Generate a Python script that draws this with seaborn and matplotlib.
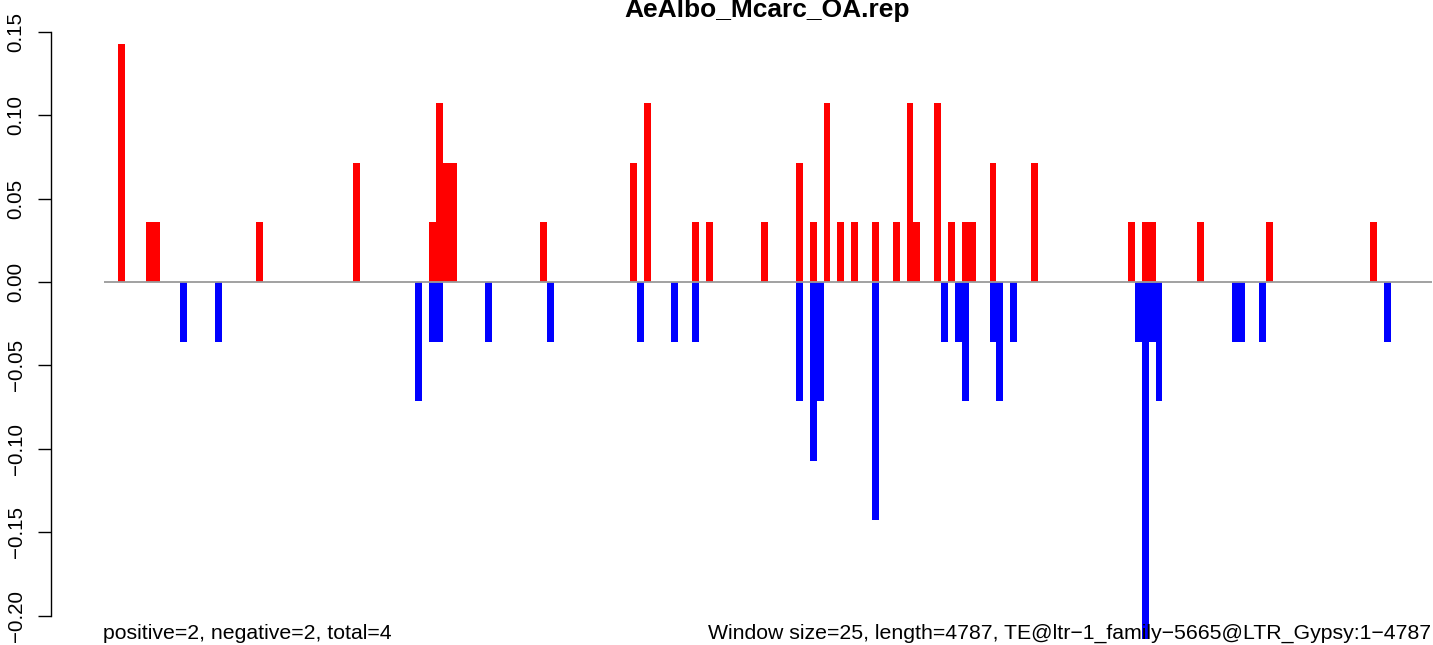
import numpy as np
import pandas as pd
import matplotlib
matplotlib.use("Agg")
import matplotlib.pyplot as plt
import seaborn as sns

# ---- data (window index, value) ----
n_windows = 192
pos_bins = [2, 6, 7, 22, 36, 47, 48, 49, 50, 63, 76, 78, 85, 87, 95, 100, 102, 104,
            106, 108, 111, 114, 116, 117, 120, 122, 124, 125, 128, 134, 148, 150, 151,
            158, 168, 183]
pos_vals = [0.1429, 0.0357, 0.0357, 0.0357, 0.0714, 0.0357, 0.1071, 0.0714, 0.0714,
            0.0357, 0.0714, 0.1071, 0.0357, 0.0357, 0.0357, 0.0714, 0.0357, 0.1071,
            0.0357, 0.0357, 0.0357, 0.0357, 0.1071, 0.0357, 0.1071, 0.0357, 0.0357,
            0.0357, 0.0714, 0.0714, 0.0357, 0.0357, 0.0357, 0.0357, 0.0357, 0.0357]
neg_bins = [11, 16, 45, 47, 48, 55, 64, 77, 82, 85, 100, 102, 103, 111, 121, 123, 124,
            128, 129, 131, 149, 150, 151, 152, 163, 164, 167, 185]
neg_vals = [-0.0357, -0.0357, -0.0714, -0.0357, -0.0357, -0.0357, -0.0357, -0.0357,
            -0.0357, -0.0357, -0.0714, -0.1071, -0.0714, -0.1429, -0.0357, -0.0357,
            -0.0714, -0.0357, -0.0714, -0.0357, -0.0357, -0.2143, -0.0357, -0.0714,
            -0.0357, -0.0357, -0.0357, -0.0357]
yticks = [-0.20, -0.15, -0.10, -0.05, 0.00, 0.05, 0.10, 0.15]
title = "AeAlbo_Mcarc_OA.rep"
left_note = "positive=2, negative=2, total=4"
right_note = "Window size=25, length=4787, TE@ltr\u22121_family\u22125665@LTR_Gypsy:1\u22124787"

# ---- build full tables ----
idx = np.arange(n_windows)
pos_full = np.zeros(n_windows)
pos_full[pos_bins] = pos_vals
neg_full = np.zeros(n_windows)
neg_full[neg_bins] = neg_vals
df_pos = pd.DataFrame({"win": idx, "val": pos_full})
df_neg = pd.DataFrame({"win": idx, "val": neg_full})

sns.set_style("white")
plt.rcParams["font.family"] = ["Liberation Sans", "DejaVu Sans"]
plt.rcParams["text.color"] = "black"
plt.rcParams["ytick.color"] = "black"
plt.rcParams["ytick.labelcolor"] = "black"

W, H = 1433, 645
fig = plt.figure(figsize=(W / 100, H / 100), dpi=100)
ax = fig.add_axes([51 / W, 0, (W - 51) / W, 1])

sns.barplot(data=df_pos, x="win", y="val", color="#FF0000", saturation=1,
            width=1.0, linewidth=0, errorbar=None, ax=ax)
sns.barplot(data=df_neg, x="win", y="val", color="#0000FF", saturation=1,
            width=1.0, linewidth=0, errorbar=None, ax=ax)

ax.hlines(0, -0.5, n_windows - 0.5, color="#9a9a9a", linewidth=1.3, zorder=5)

px_per_bin = 6.917
ax.set_xlim((51 - 104.17) / px_per_bin - 0.5, (W - 104.17) / px_per_bin - 0.5)
px_per_unit = 83.4 / 0.05
ax.set_ylim(-(H - 282) / px_per_unit, 282 / px_per_unit)

for s in ["top", "right", "bottom"]:
    ax.spines[s].set_visible(False)
ax.spines["left"].set_bounds(-0.20, 0.15)
ax.spines["left"].set_color("black")
ax.spines["left"].set_linewidth(1.0)
ax.set_xticks([])
ax.set_yticks(yticks)
ax.set_yticklabels([f"{v:.2f}".replace("-", "\u2212") for v in yticks],
                   rotation=90, va="center", fontsize=14.8, color="black")
ax.tick_params(axis="y", left=True, direction="out", length=9.7, width=1.0,
               color="black", pad=8.5)
ax.set_xlabel("")
ax.set_ylabel("")
ax.patch.set_alpha(0)

fig.text(767 / W, 1 - 17 / H, title, ha="center", va="baseline",
         fontsize=19, fontweight="bold", color="black")
fig.text(103 / W, 6 / H, left_note, ha="left", va="baseline", fontsize=15.3,
         color="black")
fig.text(1431 / W, 6 / H, right_note, ha="right", va="baseline", fontsize=15.3,
         color="black")

fig.savefig("out.png", dpi=100)
